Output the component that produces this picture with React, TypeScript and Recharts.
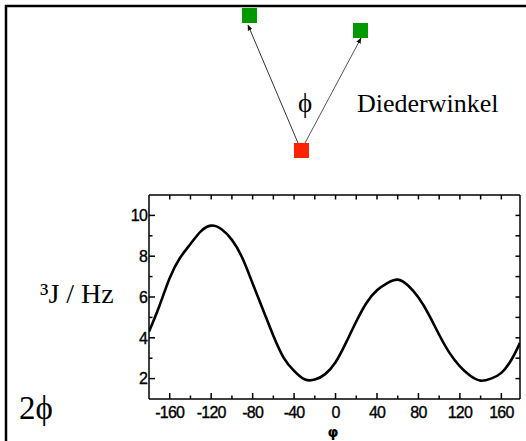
import { LineChart, Line, XAxis, YAxis } from "recharts";

// dihedral angle phi (deg) and vicinal coupling 3J (Hz)
const PHI = [
  -180, -170, -160, -150, -140, -130, -120, -110, -100, -90, -80, -70, -60,
  -50, -40, -30, -20, -10, 0, 10, 20, 30, 40, 50, 60, 70, 80, 90, 100, 110,
  120, 130, 140, 150, 160, 170, 178,
];
const J = [
  4.3, 5.56, 6.93, 7.92, 8.6, 9.22, 9.5, 9.32, 8.8, 7.92, 6.66, 5.38, 4.1,
  3.02, 2.38, 1.97, 1.95, 2.22, 2.8, 3.75, 4.8, 5.72, 6.33, 6.68, 6.85, 6.56,
  5.97, 5.14, 4.15, 3.26, 2.6, 2.14, 1.9, 2.0, 2.28, 2.95, 3.75,
];

const X_TICKS = [-160, -140, -120, -100, -80, -60, -40, -20, 0, 20, 40, 60, 80, 100, 120, 140, 160];
const Y_TICKS = [2, 3, 4, 5, 6, 7, 8, 9, 10];

const data = PHI.map((phi, i) => ({ phi, j: J[i] }));

const W = 526;
const H = 441;
const tickFont = "'Liberation Sans', Arial, sans-serif";
const serif = "'Liberation Serif', 'Times New Roman', serif";

function BottomTick(props: any) {
  const { x, y, payload } = props;
  const major = payload.value % 40 === 0;
  return (
    <g>
      <line x1={x} x2={x} y1={y} y2={y - (major ? 6 : 3.5)} stroke="#000" strokeWidth={1.5} />
      {major && (
        <text x={x} y={y + 19} textAnchor="middle" fontSize={16} fontFamily={tickFont} fill="#000" stroke="#000" strokeWidth={0.35} letterSpacing={-0.8}>
          {payload.value}
        </text>
      )}
    </g>
  );
}

function TopTick(props: any) {
  const { x, y } = props;
  return <line x1={x} x2={x} y1={y} y2={y + 4.5} stroke="#000" strokeWidth={1.5} />;
}

function LeftTick(props: any) {
  const { x, y, payload } = props;
  const major = payload.value % 2 === 0;
  return (
    <g>
      <line x1={x} x2={x + (major ? 6 : 3.5)} y1={y} y2={y} stroke="#000" strokeWidth={1.5} />
      {major && (
        <text x={x - 2} y={y} dy="0.36em" textAnchor="end" fontSize={16} fontFamily={tickFont} fill="#000" stroke="#000" strokeWidth={0.35} letterSpacing={-0.8}>
          {payload.value}
        </text>
      )}
    </g>
  );
}

function RightTick(props: any) {
  const { x, y } = props;
  return <line x1={x} x2={x - 4.5} y1={y} y2={y} stroke="#000" strokeWidth={1.5} />;
}

export default function App() {
  return (
    <div style={{ position: "absolute", left: 0, top: 0, width: W, height: H, background: "#fff" }}>
      <LineChart width={W} height={H} data={data} margin={{ top: 0, right: 0, bottom: 0, left: 0 }}>
        <XAxis
          dataKey="phi"
          type="number"
          domain={[-180, 178]}
          allowDataOverflow
          ticks={X_TICKS}
          interval={0}
          height={42}
          tickSize={0}
          tickMargin={0}
          tickLine={false}
          tick={<BottomTick />}
          axisLine={{ stroke: "#000", strokeWidth: 1.5 }}
        />
        <XAxis
          xAxisId="top"
          orientation="top"
          dataKey="phi"
          type="number"
          domain={[-180, 178]}
          allowDataOverflow
          ticks={X_TICKS}
          interval={0}
          height={195}
          tickSize={0}
          tickMargin={0}
          tickLine={false}
          tick={<TopTick />}
          axisLine={{ stroke: "#000", strokeWidth: 1.5 }}
        />
        <YAxis
          type="number"
          domain={[1, 11]}
          allowDataOverflow
          ticks={Y_TICKS}
          interval={0}
          width={149}
          tickSize={0}
          tickMargin={0}
          tickLine={false}
          tick={<LeftTick />}
          axisLine={{ stroke: "#000", strokeWidth: 1.5 }}
        />
        <YAxis
          yAxisId="right"
          orientation="right"
          type="number"
          domain={[1, 11]}
          allowDataOverflow
          ticks={Y_TICKS}
          interval={0}
          width={6}
          tickSize={0}
          tickMargin={0}
          tickLine={false}
          tick={<RightTick />}
          axisLine={{ stroke: "#000", strokeWidth: 1.5 }}
        />
        <Line
          type="natural"
          dataKey="j"
          stroke="#000"
          strokeWidth={2.6}
          dot={false}
          isAnimationActive={false}
        />
      </LineChart>
      <svg
        width={W}
        height={H}
        style={{ position: "absolute", left: 0, top: 0, pointerEvents: "none" }}
      >
        <defs>
          <marker id="arr" viewBox="0 0 10 10" refX="9" refY="5" markerWidth="6" markerHeight="6" orient="auto">
            <path d="M0,1 L10,5 L0,9 z" fill="#111" />
          </marker>
        </defs>
        {/* frame */}
        <line x1={5} x2={W} y1={6} y2={6} stroke="#000" strokeWidth={2.5} />
        <line x1={6} x2={6} y1={5} y2={H} stroke="#000" strokeWidth={2.5} />
        {/* dihedral sketch */}
        <line x1={298} y1={143} x2={248} y2={25} stroke="#333" strokeWidth={1} markerEnd="url(#arr)" />
        <line x1={305} y1={143} x2={361} y2={38} stroke="#555" strokeWidth={1} markerEnd="url(#arr)" />
        <rect x={242} y={8} width={15} height={15} fill="#009900" />
        <rect x={353} y={23} width={15} height={15} fill="#009900" />
        <rect x={294} y={143} width={15} height={15} fill="#ff2200" />
        <text x={305} y={112} textAnchor="middle" fontSize={27} fontFamily={serif} fill="#000">ϕ</text>
        <text x={357} y={112} fontSize={26} fontFamily={serif} fill="#000">Diederwinkel</text>
        <text x={40} y={303} fontSize={28} fontFamily={serif} fill="#000">³J / Hz</text>
        <text x={19} y={419} fontSize={33} fontFamily={serif} fill="#000">2ϕ</text>
        <text x={333} y={437} textAnchor="middle" fontSize={14} fontFamily="'DejaVu Sans', sans-serif" fontWeight="bold" fill="#000">φ</text>
      </svg>
    </div>
  );
}
